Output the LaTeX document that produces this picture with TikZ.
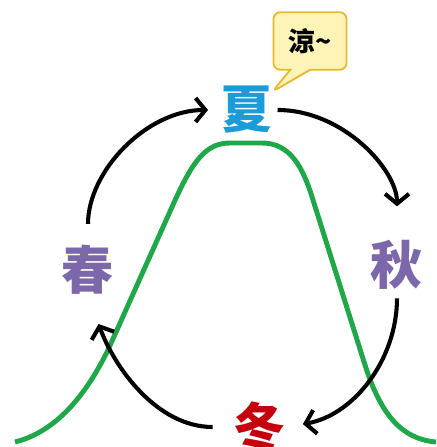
\documentclass[tikz,border=0pt]{standalone}
\usepackage{fontspec}
\newfontfamily\cjk{Noto Sans CJK TC}
\usetikzlibrary{arrows.meta,shapes.callouts}
\definecolor{summerblue}{HTML}{1B9BD8}
\definecolor{seasonpurple}{HTML}{7B67A9}
\definecolor{winterred}{HTML}{C4000E}
\definecolor{hillgreen}{HTML}{1FA74A}
\definecolor{bubblefill}{HTML}{FFF4B8}
\definecolor{bubbleline}{HTML}{E8B830}
\begin{document}
\begin{tikzpicture}[x=0.025cm, y=0.025cm,
		season/.style={inner sep=0pt, font=\cjk\bfseries\fontsize{37pt}{37pt}\selectfont},
		cycle arrow/.style={line width=2.9pt, -{Straight Barb[length=7pt, width=17pt]}},
		bubble/.style={rectangle callout, draw=bubbleline, fill=bubblefill, line width=1.3pt,
			rounded corners=5pt, minimum width=52pt, minimum height=41pt, callout pointer width=14pt,
			font=\cjk\bfseries\fontsize{19pt}{19pt}\selectfont}]
		\useasboundingbox (0,0) rectangle (436,447);
		
		\draw[hillgreen, line width=3.5pt] (15,5) .. controls (55,15) and (85,50) .. (108,97) -- (172,240)
			.. controls (192,285) and (205,304) .. (230,304) -- (262,304)
			.. controls (290,304) and (303,280) .. (313,247) -- (365,82)
			.. controls (380,35) and (400,8) .. (436,5);
		
		\node[season, color=summerblue] (summer) at (247,337) {夏};
		\node[season, color=seasonpurple] (spring) at (88,177) {春};
		\node[season, color=seasonpurple] (autumn) at (397,182) {秋};
		\node[season, color=winterred] (winter) at (260,20) {冬};
		
		\node[bubble, callout absolute pointer={(272,355)}] (cool) at (310,406) {涼\textasciitilde};
		
		\draw[cycle arrow, shorten <=15pt, shorten >=9pt] (spring.north) to[out=90, in=180] (summer.west);
		\draw[cycle arrow, shorten <=3pt, shorten >=24pt] (summer.east) to[out=0, in=90] (autumn.north);
		\draw[cycle arrow, shorten <=6pt, shorten >=12pt] (autumn.south) to[out=-90, in=10] (winter.east);
		\draw[cycle arrow, shorten <=15pt, shorten >=22pt] (winter.west) to[out=180, in=-70] (spring.south);
	\end{tikzpicture}
\end{document}
